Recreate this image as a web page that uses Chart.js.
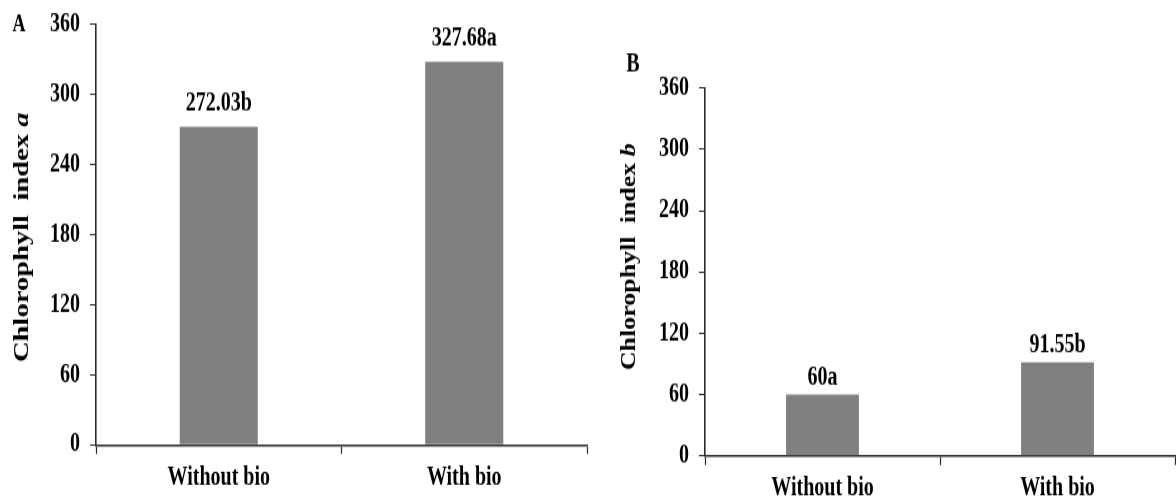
<!DOCTYPE html>
<html>
<head>
<meta charset="utf-8">
<script src="https://cdn.jsdelivr.net/npm/chart.js@4"></script>
<style>
  html, body { margin: 0; padding: 0; background: #fff; width: 1176px; height: 503px; overflow: hidden; }
  canvas { position: absolute; top: 0; }
</style>
</head>
<body>
<!-- Each panel is drawn on a canvas that is 1.3x taller on screen than its bitmap,
     which gives the tall, narrow bold serif lettering of the figure. -->
<canvas id="chartA" width="600" height="387" style="left:0;width:600px;height:503px"></canvas>
<canvas id="chartB" width="576" height="387" style="left:600px;width:576px;height:503px"></canvas>
<script>
const categories = ['Without bio', 'With bio'];
const chlorophyllA = [272.03, 327.68];
const chlorophyllB = [60, 91.55];
const lettersA = ['b', 'a'];
const lettersB = ['a', 'b'];
const yTicks = [0, 60, 120, 180, 240, 300, 360];

const FONT = '"Liberation Serif", "Times New Roman", serif';
const INK = '#000';
const AXIS = '#2a2a2a';
const BAR = '#808080';

// Value labels above the bars, the panel letter and the rotated y-axis title.
const annotate = {
  id: 'annotate',
  afterDatasetsDraw(chart, args, o) {
    const ctx = chart.ctx;
    const ds = chart.data.datasets[0];
    ctx.save();
    ctx.fillStyle = INK;
    ctx.textAlign = 'center';
    ctx.textBaseline = 'middle';
    ctx.font = `bold ${o.valueSize}px ${FONT}`;
    chart.getDatasetMeta(0).data.forEach((bar, i) => {
      ctx.fillText(String(ds.data[i]) + o.letters[i], bar.x, bar.y - o.valueGap);
    });

    ctx.font = `bold ${o.panelSize}px ${FONT}`;
    ctx.fillText(o.panel, o.panelX, o.panelY);

    ctx.translate(o.titleX, o.titleY);
    ctx.rotate(-Math.PI / 2);
    const plain = `bold ${o.titleSize}px ${FONT}`;
    const ital = `italic bold ${o.titleSize}px ${FONT}`;
    ctx.font = plain;
    const w1 = ctx.measureText(o.title).width;
    ctx.font = ital;
    const w2 = ctx.measureText(o.titleVar).width;
    ctx.textAlign = 'left';
    const x0 = -(w1 + w2) / 2;
    ctx.font = plain;
    ctx.fillText(o.title, x0, 0);
    ctx.font = ital;
    ctx.fillText(o.titleVar, x0 + w1, 0);
    ctx.restore();
  }
};

function makePanel(canvasId, values, cfg) {
  const c = document.getElementById(canvasId);
  return new Chart(c, {
    type: 'bar',
    data: {
      labels: categories,
      datasets: [{
        data: values,
        backgroundColor: BAR,
        borderWidth: 0,
        barPercentage: cfg.barPct,
        categoryPercentage: 1
      }]
    },
    options: {
      responsive: false,
      devicePixelRatio: 1,
      animation: false,
      events: [],
      layout: { padding: { top: cfg.top, right: cfg.right, bottom: 0, left: 0 } },
      plugins: {
        legend: { display: false },
        tooltip: { enabled: false },
        annotate: cfg.annot
      },
      scales: {
        x: {
          grid: { offset: true, drawOnChartArea: false, drawTicks: true, tickLength: 7, color: AXIS, tickWidth: 1.2 },
          border: { display: true, color: AXIS, width: 1.6 },
          ticks: { color: INK, padding: cfg.xPad, font: { family: FONT, size: 20, weight: 'bold' } },
          afterFit: s => { s.height = cfg.xHeight; s.paddingLeft = 0; s.paddingRight = 0; }
        },
        y: {
          min: 0, max: 360,
          afterBuildTicks: s => { s.ticks = yTicks.map(v => ({ value: v })); },
          grid: { drawOnChartArea: false, drawTicks: true, tickLength: 6, color: AXIS, tickWidth: 1 },
          border: { display: true, color: AXIS, width: 1.6 },
          ticks: { color: INK, padding: 10, font: { family: FONT, size: 20, weight: 'bold' } },
          afterFit: s => { s.width = cfg.yWidth; s.paddingTop = 0; s.paddingBottom = 0; }
        }
      }
    },
    plugins: [annotate]
  });
}

makePanel('chartA', chlorophyllA, {
  barPct: 0.318, top: 18.5, right: 13, yWidth: 96, xHeight: 387 - 342.3, xPad: 7,
  annot: {
    letters: lettersA, valueSize: 20, valueGap: 18,
    panel: 'A', panelSize: 18, panelX: 19, panelY: 19,
    title: 'Chlorophyll  index ', titleVar: 'a', titleSize: 22, titleX: 22, titleY: 182.5
  }
});

makePanel('chartB', chlorophyllB, {
  barPct: 0.31, top: 67.7, right: 1, yWidth: 105, xHeight: 387 - 350.8, xPad: 6,
  annot: {
    letters: lettersB, valueSize: 20, valueGap: 13,
    panel: 'B', panelSize: 20, panelX: 33, panelY: 50,
    title: 'Chlorophyll  index ', titleVar: 'b', titleSize: 20, titleX: 30, titleY: 197.5
  }
});
</script>
</body>
</html>
